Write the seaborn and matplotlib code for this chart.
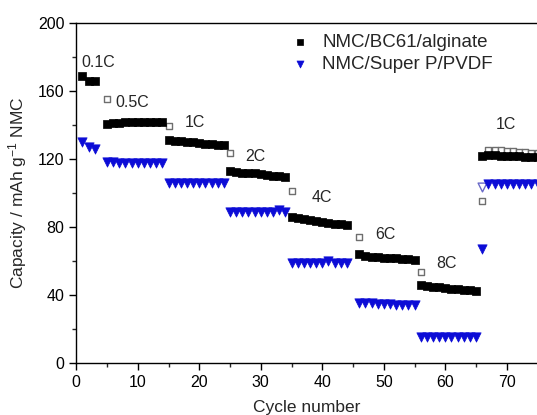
import matplotlib
matplotlib.use("Agg")
import matplotlib.pyplot as plt
import numpy as np
import pandas as pd
import seaborn as sns

# NMC/BC61/alginate (filled squares)
bc61_cycles = [1, 2, 3,
               5, 6, 7, 8, 9, 10, 11, 12, 13, 14,
               15, 16, 17, 18, 19, 20, 21, 22, 23, 24,
               25, 26, 27, 28, 29, 30, 31, 32, 33, 34,
               35, 36, 37, 38, 39, 40, 41, 42, 43, 44,
               46, 47, 48, 49, 50, 51, 52, 53, 54, 55,
               56, 57, 58, 59, 60, 61, 62, 63, 64, 65,
               66, 67, 68, 69, 70, 71, 72, 73, 74, 75]
bc61_cap = [169, 166, 166,
            140.5, 141, 141, 141.5, 141.5, 142, 142, 142, 142, 142,
            131, 130.5, 130.5, 130, 130, 129.5, 129, 129, 128.5, 128,
            113, 112.5, 112, 111.5, 111.5, 111, 110.5, 110, 110, 109.5,
            86, 85, 84.5, 84, 83.5, 83, 82.5, 82, 81.5, 81,
            64, 63, 62.5, 62.5, 62, 62, 61.5, 61, 61, 60.5,
            46, 45, 44.5, 44.5, 44, 43.5, 43.5, 43, 43, 42.5,
            122, 122.5, 122.5, 122, 122, 121.5, 121.5, 121, 121, 121]
# open squares (first cycle of each rate step, and the 1C return)
bc61_open_cycles = [5, 15, 25, 35, 46, 56, 66,
                    67, 68, 69, 70, 71, 72, 73, 74, 75]
bc61_open_cap = [155, 139.5, 123.5, 101, 74, 53.5, 95.5,
                 125, 125, 125, 124.5, 124.5, 124, 124, 123.5, 123.5]

# NMC/Super P/PVDF (filled triangles)
pvdf_cycles = [1, 2, 3,
               5, 6, 7, 8, 9, 10, 11, 12, 13, 14,
               15, 16, 17, 18, 19, 20, 21, 22, 23, 24,
               25, 26, 27, 28, 29, 30, 31, 32, 33, 34,
               35, 36, 37, 38, 39, 40, 41, 42, 43, 44,
               46, 47, 48, 49, 50, 51, 52, 53, 54, 55,
               56, 57, 58, 59, 60, 61, 62, 63, 64, 65,
               66, 67, 68, 69, 70, 71, 72, 73, 74, 75]
pvdf_cap = [130, 127, 126,
            118.5, 118, 117.5, 117.5, 117.5, 117.5, 117.5, 117.5, 117.5, 117.5,
            106, 106, 106, 106, 106, 106, 106, 106, 106, 106,
            89, 89, 89, 89, 89, 89, 89, 89, 90, 89,
            59, 59, 59, 59, 59, 59, 60, 59, 59, 59,
            35, 35, 35, 34.5, 34.5, 34.5, 34, 34, 34, 34,
            15.5, 15.5, 15.5, 15.5, 15.5, 15.5, 15.5, 15.5, 15.5, 15.5,
            67, 105.5, 105.5, 105.5, 105.5, 105.5, 105.5, 105.5, 105.5, 105.5]
pvdf_open_cycles = [66]
pvdf_open_cap = [103.5]

rate_labels = ["0.1C", "0.5C", "1C", "2C", "4C", "6C", "8C", "1C"]
label_pos = [(0.9, 176.5), (6.4, 153), (17.7, 141.5), (27.4, 121.5),
             (38.3, 97.5), (48.6, 75.4), (58.6, 58.7), (68.2, 140)]

sns.set_style("ticks")
plt.rcParams['font.family'] = ['Liberation Sans', 'DejaVu Sans']
plt.rcParams['mathtext.default'] = 'regular'

fig = plt.figure(figsize=(5.37, 4.15), dpi=100)
ax = fig.add_axes([0.142, 0.1253, 0.858, 0.8193])

blue = '#0c0cd6'

sns.scatterplot(x=bc61_open_cycles, y=bc61_open_cap, ax=ax, marker='s', s=22,
                facecolor='white', edgecolor='#6e6e6e', linewidth=1.0, zorder=2)
sns.scatterplot(x=pvdf_open_cycles, y=pvdf_open_cap, ax=ax, marker='v', s=40,
                facecolor='white', edgecolor='#6a6ac8', linewidth=1.0, zorder=2)
sns.scatterplot(x=bc61_cycles, y=bc61_cap, ax=ax, marker='s', s=32,
                color='black', edgecolor='black', linewidth=0.5, zorder=3,
                label='NMC/BC61/alginate')
sns.scatterplot(x=pvdf_cycles, y=pvdf_cap, ax=ax, marker='v', s=45,
                color=blue, edgecolor=blue, linewidth=0.5, zorder=3,
                label='NMC/Super P/PVDF')

for txt, (lx, ly) in zip(rate_labels, label_pos):
    ax.text(lx, ly, txt, fontsize=11.5, ha='left', va='center')

ax.set_xlim(0, 74.9)
ax.set_ylim(0, 200)
ax.set_xticks(np.arange(0, 71, 10))
ax.set_xticks(np.arange(5, 75, 10), minor=True)
ax.set_yticks(np.arange(0, 201, 40))
ax.set_yticks(np.arange(20, 200, 40), minor=True)
ax.tick_params(axis='both', which='major', direction='out', length=5,
               width=1, labelsize=11.5, colors='black')
ax.tick_params(axis='both', which='minor', direction='out', length=3, width=1)
for sp in ['left', 'bottom', 'top']:
    ax.spines[sp].set_linewidth(1.0)
    ax.spines[sp].set_color('black')
ax.spines['right'].set_visible(False)

ax.set_xlabel('Cycle number', fontsize=12.5, labelpad=7)
ax.set_ylabel('Capacity / mAh g$^{-1}$ NMC', fontsize=12.5, labelpad=6)

leg = ax.legend(loc='upper left', bbox_to_anchor=(0.42, 1.0), frameon=False,
                fontsize=13.5, handletextpad=0.2, labelspacing=0.25,
                markerscale=0.75, borderaxespad=0.2)

fig.savefig('out.png', dpi=100)
